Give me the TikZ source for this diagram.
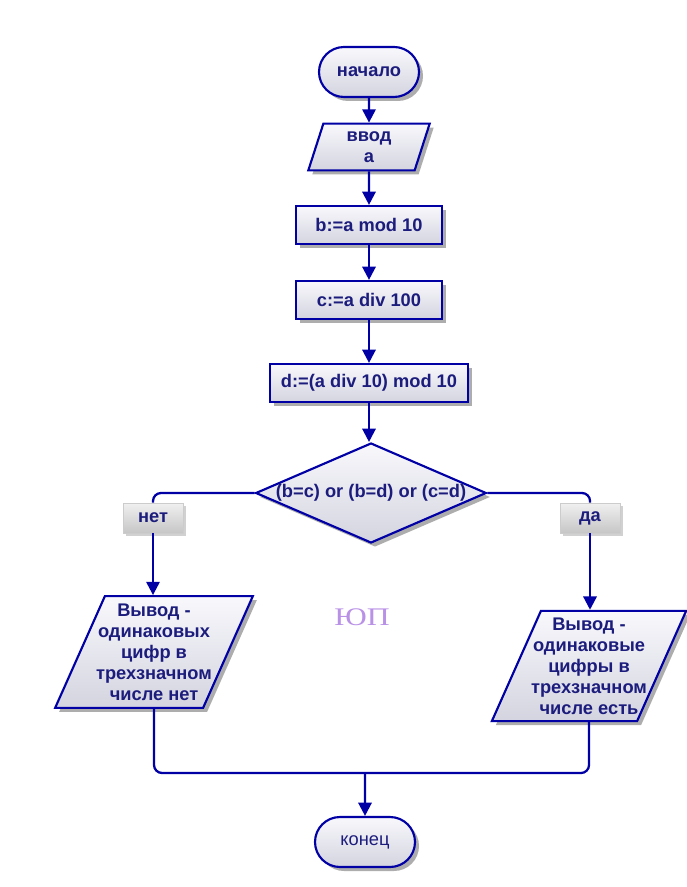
\documentclass[tikz,border=0pt]{standalone}
\usepackage{fontspec}
\setmainfont{Liberation Sans}
\newfontfamily\wmfont{Liberation Serif}
\usetikzlibrary{shapes.geometric, shapes.misc, arrows.meta, shadows}

\definecolor{flowline}{RGB}{0,0,165}
\definecolor{flowtext}{RGB}{28,28,125}
\definecolor{boxtop}{RGB}{248,248,252}
\definecolor{boxbot}{RGB}{212,212,224}
\definecolor{marktop}{RGB}{240,240,240}
\definecolor{markbot}{RGB}{198,198,198}
\definecolor{wmark}{RGB}{185,145,230}

\begin{document}
\begin{tikzpicture}[x=0.75pt, y=-0.75pt]
  \tikzset{
    base/.style={draw=flowline, line width=1.6pt, top color=boxtop, bottom color=boxbot,
      text=flowtext, font=\fontsize{13.7}{15.8}\selectfont\bfseries,
      drop shadow={shadow xshift=3pt, shadow yshift=-3pt, fill=black!40, opacity=0.8}},
    term/.style={base, rounded rectangle, minimum width=75pt, minimum height=37.5pt, inner sep=0pt},
    proc/.style={base, rectangle, minimum height=28.5pt, inner sep=0pt},
    io/.style={base, trapezium, trapezium left angle=66, trapezium right angle=114, align=center},
    cond/.style={base, diamond, aspect=2.31, minimum width=173pt, minimum height=75pt,
      inner xsep=-4pt, inner ysep=0pt},
    answer/.style={draw=black!20, line width=0.6pt, top color=marktop, bottom color=markbot,
      text=flowtext, font=\fontsize{13.7}{15.8}\selectfont\bfseries,
      minimum width=45pt, minimum height=22.5pt, inner sep=0pt,
      drop shadow={shadow xshift=2pt, shadow yshift=-2pt, fill=black!30, opacity=0.6}},
    link/.style={draw=flowline, line width=1.7pt, rounded corners=6pt},
    arr/.style={link, -{Triangle[width=10pt,length=10pt]}}
  }
  \useasboundingbox (0,0) rectangle (686,887);

  % main column
  \node[term] (start) at (369,72) {начало};
  \node[io, trapezium stretches body, minimum width=91pt, minimum height=35pt, inner ysep=1pt] (inp) at (369,147) {ввод\\а};
  \node[proc, minimum width=109.5pt] (b) at (369,225) {b:=a mod 10};
  \node[proc, minimum width=110pt] (c) at (369,300) {c:=a div 100};
  \node[proc, minimum width=148.5pt] (d) at (369,383) {d:=(a div 10) mod 10};
  \node[cond] (dec) at (371,493) {(b=c) or (b=d) or (c=d)};

  % branches
  \node[answer] (no) at (153,518) {нет};
  \node[answer] (yes) at (590,518) {да};
  \node[io, inner xsep=-6.6pt, inner ysep=5.5pt] (outno) at (154,652) {Вывод -\\одинаковых\\цифр в\\трехзначном\\числе нет};
  \node[io, inner xsep=-7.4pt, inner ysep=5pt] (outyes) at (589,666) {Вывод -\\одинаковые\\цифры в\\трехзначном\\числе есть};
  \node[text=wmark, font=\wmfont\fontsize{19}{19}\selectfont, xscale=1.25] (logo) at (362,617) {ЮП};

  % end
  \coordinate (join) at (365,773);
  \node[term, font=\fontsize{13.7}{15.8}\selectfont] (stop) at (365,842) {конец};

  \draw[arr] (start) -- (inp);
  \draw[arr] (inp) -- (b);
  \draw[arr] (b) -- (c);
  \draw[arr] (c) -- (d);
  \draw[arr] (d) -- (d |- dec.north);
  \draw[link] (dec.west) -| (no.north);
  \draw[arr] (no) -- (no |- outno.north);
  \draw[link] (dec.east) -| (yes.north);
  \draw[arr] (yes) -- (yes |- outyes.north);
  \draw[link] (outno.south) |- (join) -| (outyes.south);
  \draw[arr] (join) -- (stop);
\end{tikzpicture}
\end{document}
